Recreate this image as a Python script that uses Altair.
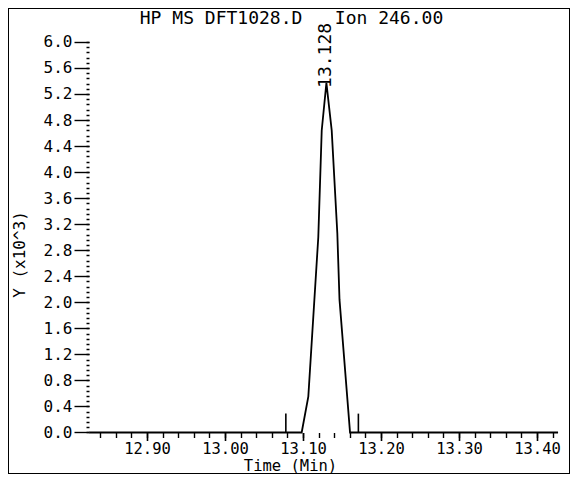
import altair as alt
import pandas as pd

# ---- data ----
trace_time = [12.826, 13.0983, 13.1068, 13.1196, 13.1240, 13.1300, 13.1368, 13.1440, 13.1468, 13.1603, 13.427]
trace_y = [0.0, 0.0, 0.55, 3.00, 4.64, 5.37, 4.64, 3.06, 2.04, 0.0, 0.0]

marker_time = [13.078, 13.171]
marker_y = [0.29, 0.29]

peak_time = [13.130]
peak_y = [5.37]
peak_label = ["13.128"]

x_major = [12.90, 13.00, 13.10, 13.20, 13.30, 13.40]
x_minor = [round(12.84 + 0.02 * i, 2) for i in range(30)]
y_major = [0.0, 0.4, 0.8, 1.2, 1.6, 2.0, 2.4, 2.8, 3.2, 3.6, 4.0, 4.4, 4.8, 5.2, 5.6, 6.0]
y_minor = [round(0.08 * i, 2) for i in range(76)]

title_text = "HP MS DFT1028.D\u00a0\u00a0\u00a0Ion 246.00"
x_title = "Time (Min)"
y_title = "Y (x10^3)"

FONT = "DejaVu Sans Mono"

W, H = 562, 466
x_dom = [12.72179, 13.44231]
y_dom = [-0.6375, 6.5207]

trace = pd.DataFrame({"t": trace_time, "y": trace_y})
markers = pd.DataFrame({"t": marker_time, "y0": [0.0] * len(marker_time), "y": marker_y})
peaks = pd.DataFrame({"t": peak_time, "y": peak_y, "label": peak_label})

xs = alt.Scale(domain=x_dom, nice=False, zero=False)
ys = alt.Scale(domain=y_dom, nice=False, zero=False)


def axis_style(fs):
    return dict(labelFont=FONT, titleFont=FONT, labelFontSize=fs, titleFontSize=fs,
                labelColor="black", titleColor="black", tickColor="black",
                domain=False, grid=False, titleFontWeight="normal")


x_axis_major = alt.Axis(orient="bottom", values=x_major, format=".2f", tickSize=8, tickWidth=1.6,
                        labelPadding=1, offset=-41.5, title=x_title, titleX=282, titleY=33.3,
                        titleBaseline="middle", titleAlign="center", labelFlush=False,
                        labelOverlap=False, **axis_style(15.5))
x_axis_minor = alt.Axis(orient="bottom", values=x_minor, labels=False, tickSize=5, tickWidth=1.4,
                        offset=-41.5, title=None, **axis_style(15.5))
y_axis_major = alt.Axis(orient="left", values=y_major, format=".1f", tickSize=15, tickWidth=1.4,
                        labelPadding=2, offset=-81, title=y_title, titleX=-70, titleY=246,
                        titleAngle=270, titleBaseline="middle", titleAlign="center",
                        labelBaseline="middle", labelFlush=False, labelOverlap=False, **axis_style(16))
y_axis_minor = alt.Axis(orient="left", values=y_minor, labels=False, tickSize=3, tickWidth=1.5,
                        offset=-81, title=None, **axis_style(16))

line = alt.Chart(trace).mark_line(color="black", strokeWidth=1.8).encode(
    x=alt.X("t:Q", scale=xs, axis=x_axis_major),
    y=alt.Y("y:Q", scale=ys, axis=y_axis_major),
    order=alt.Order("t:Q"),
)

rules = alt.Chart(markers).mark_rule(color="black", strokeWidth=1.6).encode(
    x=alt.X("t:Q", scale=xs, axis=x_axis_minor),
    y=alt.Y("y0:Q", scale=ys, axis=y_axis_minor),
    y2="y:Q",
)

label = alt.Chart(peaks).mark_text(font=FONT, fontSize=18, angle=270, align="left",
                                   baseline="middle", dx=-5, color="black").encode(
    x=alt.X("t:Q", scale=xs, axis=None),
    y=alt.Y("y:Q", scale=ys, axis=None),
    text="label:N",
)

chart = alt.layer(line, rules, label).resolve_axis(x="independent", y="independent").properties(
    width=W, height=H,
    title=alt.TitleParams(title_text, font=FONT, fontSize=18, fontWeight="normal", color="black",
                          anchor="middle", dx=2.5, offset=-20),
    autosize=alt.AutoSizeParams(type="none"),
    padding=0,
).configure(background="white").configure_view(stroke="black", strokeWidth=2)

chart.save("out.html", embed_options={"renderer": "svg", "actions": False})
